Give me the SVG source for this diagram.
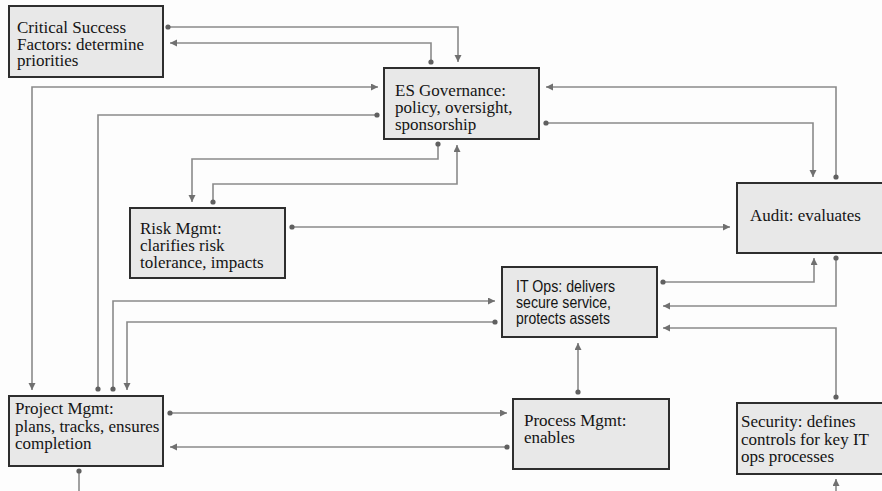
<svg xmlns="http://www.w3.org/2000/svg" width="882" height="491" viewBox="0 0 882 491">
  <defs>
    <marker id="arrow" markerUnits="userSpaceOnUse" markerWidth="8" markerHeight="8" refX="7" refY="3.5" orient="auto-start-reverse">
      <path d="M0,0 L7,3.5 L0,7 z" fill="#707070"/>
    </marker>
    <marker id="dot" markerUnits="userSpaceOnUse" markerWidth="8" markerHeight="8" refX="4" refY="4">
      <circle cx="4" cy="4" r="2.6" fill="#606060"/>
    </marker>
    <style>
      .box { fill: #e8e8e8; stroke: #2e2e2e; stroke-width: 2; }
      .lbl { font-family: "Liberation Serif", "Times New Roman", serif; font-size: 17px; fill: #141414; }
      .sans { font-family: "Liberation Sans", Arial, sans-serif; font-size: 16.5px; fill: #141414; }
      .wire { fill: none; stroke: #8a8a8a; stroke-width: 1.6; }
      .de { marker-start: url(#dot); marker-end: url(#arrow); }
      .aa { marker-start: url(#arrow); marker-end: url(#arrow); }
      .dd { marker-start: url(#dot); marker-end: url(#dot); }
    </style>
  </defs>

  <rect width="882" height="491" fill="#fdfdfd"/>

  <!-- connectors -->
  <g id="connectors">
    <path class="wire de" d="M168,27 H458 V62"/>
    <path class="wire de" d="M431,62 V43 H170"/>
    <path class="wire aa" d="M378,87 H32 V390"/>
    <path class="wire dd" d="M377,115 H98 V389"/>
    <path class="wire de" d="M438,144 V159 H192 V202"/>
    <path class="wire de" d="M213,202 V184 H457 V145"/>
    <path class="wire de" d="M836,177 V87 H546"/>
    <path class="wire de" d="M546,123 H813 V177"/>
    <path class="wire de" d="M292,227 H730"/>
    <path class="wire de" d="M663,282 H814 V258"/>
    <path class="wire de" d="M836,258 V306 H663"/>
    <path class="wire de" d="M836,397 V328 H663"/>
    <path class="wire" marker-end="url(#arrow)" d="M836,491 V479"/>
    <path class="wire" marker-start="url(#dot)" d="M79,471 V491"/>
    <path class="wire de" d="M113,389 V301 H495"/>
    <path class="wire de" d="M495,322 H127 V390"/>
    <path class="wire de" d="M578,392 V343"/>
    <path class="wire de" d="M170,413 H507"/>
    <path class="wire de" d="M507,447 H170"/>
  </g>

  <!-- nodes -->
  <g id="csf">
    <rect class="box" x="9" y="6" width="154" height="71"/>
    <text class="lbl" x="17"><tspan x="17" y="33">Critical Success</tspan><tspan x="17" y="50">Factors: determine</tspan><tspan x="17" y="66">priorities</tspan></text>
  </g>

  <g id="es-governance">
    <rect class="box" x="384" y="68" width="155" height="71"/>
    <text class="lbl"><tspan x="395" y="96">ES Governance:</tspan><tspan x="395" y="113">policy, oversight,</tspan><tspan x="395" y="130">sponsorship</tspan></text>
  </g>

  <g id="audit">
    <rect class="box" x="737" y="183" width="150" height="70"/>
    <text class="lbl" x="750" y="221">Audit: evaluates</text>
  </g>

  <g id="risk-mgmt">
    <rect class="box" x="130" y="208" width="155" height="70"/>
    <text class="lbl"><tspan x="140" y="234">Risk Mgmt:</tspan><tspan x="140" y="251">clarifies risk</tspan><tspan x="140" y="268">tolerance, impacts</tspan></text>
  </g>

  <g id="it-ops">
    <rect class="box" x="502" y="267" width="155" height="70"/>
    <text class="sans"><tspan x="516" y="292" textLength="99" lengthAdjust="spacingAndGlyphs">IT Ops: delivers</tspan></text>
    <text class="sans"><tspan x="516" y="308" textLength="95" lengthAdjust="spacingAndGlyphs">secure service,</tspan></text>
    <text class="sans"><tspan x="516" y="324" textLength="94" lengthAdjust="spacingAndGlyphs">protects assets</tspan></text>
  </g>

  <g id="project-mgmt">
    <rect class="box" x="9" y="396" width="154" height="70"/>
    <text class="lbl"><tspan x="15" y="414">Project Mgmt:</tspan><tspan x="15" y="432">plans, tracks, ensures</tspan><tspan x="15" y="449">completion</tspan></text>
  </g>

  <g id="process-mgmt">
    <rect class="box" x="513" y="399" width="156" height="70"/>
    <text class="lbl"><tspan x="524" y="426">Process Mgmt:</tspan><tspan x="524" y="443">enables</tspan></text>
  </g>

  <g id="security">
    <rect class="box" x="737" y="403" width="150" height="71"/>
    <text class="lbl"><tspan x="741" y="427">Security: defines</tspan><tspan x="741" y="445">controls for key IT</tspan><tspan x="741" y="462">ops processes</tspan></text>
  </g>
</svg>
